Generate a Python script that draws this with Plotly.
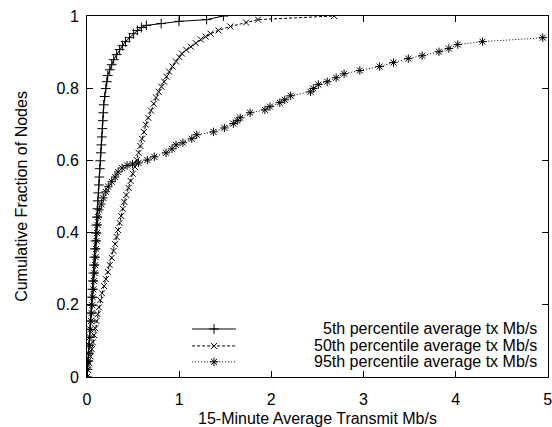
import plotly.graph_objects as go

# CDFs of per-node 15-minute average transmit rate (Mb/s)
p5_x = [0.000, 0.005, 0.011, 0.016, 0.021, 0.027, 0.032, 0.038, 0.043, 0.048,
        0.054, 0.059, 0.064, 0.070, 0.075, 0.080, 0.086, 0.091, 0.097, 0.102,
        0.107, 0.113, 0.118, 0.123, 0.129, 0.134, 0.139, 0.145, 0.150, 0.156,
        0.161, 0.166, 0.172, 0.177, 0.182, 0.193, 0.204, 0.215, 0.225, 0.247,
        0.268, 0.290, 0.322, 0.354, 0.386, 0.418, 0.461, 0.504, 0.547, 0.590,
        0.644, 0.805, 0.998, 1.298, 1.481]
p5_y = [0.000, 0.021, 0.044, 0.066, 0.088, 0.110, 0.132, 0.155, 0.177, 0.199,
        0.221, 0.243, 0.266, 0.288, 0.310, 0.332, 0.355, 0.377, 0.399, 0.421,
        0.443, 0.466, 0.488, 0.510, 0.532, 0.554, 0.577, 0.599, 0.621, 0.643,
        0.665, 0.688, 0.710, 0.732, 0.754, 0.777, 0.799, 0.818, 0.835, 0.851,
        0.865, 0.879, 0.893, 0.907, 0.918, 0.929, 0.940, 0.951, 0.960, 0.968,
        0.974, 0.979, 0.985, 0.990, 1.000]

p50_x = [0.000, 0.013, 0.026, 0.039, 0.052, 0.064, 0.077, 0.090, 0.103, 0.116,
         0.129, 0.143, 0.163, 0.185, 0.205, 0.226, 0.247, 0.268, 0.288, 0.305,
         0.322, 0.338, 0.354, 0.371, 0.389, 0.405, 0.427, 0.451, 0.474, 0.497,
         0.520, 0.541, 0.560, 0.579, 0.597, 0.618, 0.638, 0.665, 0.695, 0.724,
         0.749, 0.778, 0.808, 0.837, 0.862, 0.891, 0.928, 0.966, 1.003, 1.030,
         1.078, 1.127, 1.180, 1.234, 1.288, 1.341, 1.427, 1.556, 1.727, 1.856,
         2.682]
p50_y = [0.000, 0.019, 0.038, 0.057, 0.077, 0.096, 0.116, 0.135, 0.155, 0.174,
         0.193, 0.213, 0.232, 0.252, 0.271, 0.291, 0.310, 0.330, 0.349, 0.368,
         0.388, 0.407, 0.427, 0.446, 0.466, 0.485, 0.504, 0.524, 0.543, 0.563,
         0.582, 0.601, 0.621, 0.640, 0.660, 0.679, 0.699, 0.718, 0.738, 0.757,
         0.774, 0.790, 0.804, 0.818, 0.832, 0.846, 0.860, 0.874, 0.886, 0.896,
         0.906, 0.915, 0.925, 0.935, 0.943, 0.951, 0.960, 0.971, 0.982, 0.990,
         1.000]

p95_x = [0.000, 0.005, 0.011, 0.017, 0.024, 0.030, 0.036, 0.043, 0.049, 0.056,
         0.062, 0.069, 0.075, 0.082, 0.088, 0.093, 0.099, 0.104, 0.109, 0.115,
         0.120, 0.134, 0.156, 0.177, 0.204, 0.231, 0.268, 0.306, 0.338, 0.381,
         0.435, 0.494, 0.558, 0.655, 0.730, 0.858, 0.923, 0.966, 1.041, 1.137,
         1.191, 1.373, 1.491, 1.588, 1.631, 1.663, 1.770, 1.931, 1.985, 2.092,
         2.146, 2.210, 2.425, 2.457, 2.511, 2.607, 2.704, 2.790, 2.961, 3.176,
         3.326, 3.487, 3.637, 3.820, 3.927, 4.024, 4.292, 4.946, 5.600]
p95_y = [0.000, 0.021, 0.044, 0.066, 0.088, 0.110, 0.132, 0.155, 0.177, 0.199,
         0.221, 0.243, 0.266, 0.288, 0.310, 0.332, 0.355, 0.377, 0.399, 0.421,
         0.443, 0.463, 0.479, 0.496, 0.513, 0.527, 0.541, 0.554, 0.568, 0.579,
         0.586, 0.590, 0.593, 0.601, 0.610, 0.621, 0.632, 0.643, 0.649, 0.660,
         0.671, 0.679, 0.690, 0.702, 0.710, 0.718, 0.732, 0.740, 0.749, 0.760,
         0.768, 0.779, 0.790, 0.799, 0.810, 0.818, 0.829, 0.840, 0.849, 0.860,
         0.871, 0.882, 0.890, 0.901, 0.910, 0.921, 0.929, 0.940, 0.950]

series_names = ["5th percentile average tx Mb/s",
                "50th percentile average tx Mb/s",
                "95th percentile average tx Mb/s"]

FONT = "Liberation Sans, Arial, Helvetica, sans-serif"
FSIZE = 16
BLACK = "#000000"

styles = [
    dict(dash="solid", symbol="cross-thin-open", size=7),
    dict(dash="3px,2px", symbol="x-thin-open", size=6),
    dict(dash="1px,2px", symbol="asterisk-open", size=7),
]
data = [(p5_x, p5_y), (p50_x, p50_y), (p95_x, p95_y)]

fig = go.Figure()
for (xs, ys), st, name in zip(data, styles, series_names):
    fig.add_trace(go.Scatter(
        x=xs, y=ys, mode="lines+markers", name=name, showlegend=False,
        line=dict(color=BLACK, width=1, dash=st["dash"]),
        marker=dict(symbol=st["symbol"], size=st["size"], color=BLACK,
                    line=dict(color=BLACK, width=1)),
    ))

# Key: sample line with a marker in the middle, label right-aligned
key_x0, key_x1 = 0.228, 0.323
key_rows = [0.133, 0.086, 0.042]
for st, name, ky in zip(styles, series_names, key_rows):
    fig.add_trace(go.Scatter(
        x=[key_x0, (key_x0 + key_x1) / 2, key_x1], y=[ky, ky, ky],
        xaxis="x2", yaxis="y2", mode="lines", showlegend=False,
        line=dict(color=BLACK, width=1, dash=st["dash"]), hoverinfo="skip",
    ))
    fig.add_trace(go.Scatter(
        x=[(key_x0 + key_x1) / 2], y=[ky], xaxis="x2", yaxis="y2",
        mode="markers", showlegend=False, hoverinfo="skip",
        marker=dict(symbol=st["symbol"], size=st["size"], color=BLACK,
                    line=dict(color=BLACK, width=1)),
    ))
    fig.add_annotation(x=0.981, y=ky, xref="x2", yref="y2", text=name,
                       showarrow=False, xanchor="right", yanchor="middle",
                       font=dict(family=FONT, size=FSIZE, color=BLACK))

axis_common = dict(
    showgrid=False, zeroline=False, showline=True, linecolor=BLACK,
    linewidth=1, mirror="ticks", ticks="inside", ticklen=6, tickwidth=1,
    tickcolor=BLACK, tickfont=dict(family=FONT, size=FSIZE, color=BLACK),
    ticklabeloverflow="allow",
)

fig.update_layout(
    width=552, height=427,
    margin=dict(l=87, r=0, t=16, b=50),
    paper_bgcolor="white", plot_bgcolor="white",
    font=dict(family=FONT, size=FSIZE, color=BLACK),
    xaxis=dict(range=[0, 5.003], tick0=0, dtick=1, ticklabelstandoff=8,
               title=dict(text="15-Minute Average Transmit Mb/s",
                          font=dict(family=FONT, size=FSIZE), standoff=5),
               **axis_common),
    yaxis=dict(range=[0, 1], tick0=0, dtick=0.2, ticklabelstandoff=4,
               tickformat="~g",
               title=dict(text="Cumulative Fraction of Nodes",
                          font=dict(family=FONT, size=FSIZE), standoff=24),
               **axis_common),
    xaxis2=dict(overlaying="x", range=[0, 1], visible=False),
    yaxis2=dict(overlaying="y", range=[0, 1], visible=False),
)

fig.write_html("out.html")
